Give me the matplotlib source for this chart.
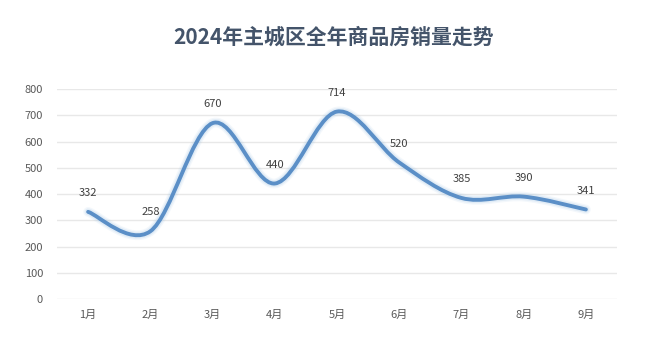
import matplotlib
matplotlib.use("Agg")
import matplotlib.pyplot as plt
import numpy as np
from matplotlib.path import Path
from matplotlib.patches import PathPatch

plt.rcParams['font.family'] = ['Noto Sans CJK SC', 'DejaVu Sans']

months = ['1月', '2月', '3月', '4月', '5月', '6月', '7月', '8月', '9月']
sales = [332, 258, 670, 440, 714, 520, 385, 390, 341]
yticks = [0, 100, 200, 300, 400, 500, 600, 700, 800]
title = '2024年主城区全年商品房销量走势'

fig = plt.figure(figsize=(6.55, 3.47), dpi=100)
ax = fig.add_axes([0.087, 0.1383, 0.855, 0.6052])

x = np.arange(len(months), dtype=float)
y = np.array(sales, dtype=float)

# Catmull-Rom style smoothing as Bezier segments (like Excel smoothed line)
verts = [(x[0], y[0])]
codes = [Path.MOVETO]
n = len(x)
for i in range(n - 1):
    p0 = (x[i - 1], y[i - 1]) if i > 0 else (x[i], y[i])
    p1 = (x[i], y[i])
    p2 = (x[i + 1], y[i + 1])
    p3 = (x[i + 2], y[i + 2]) if i + 2 < n else (x[i + 1], y[i + 1])
    c1 = (p1[0] + (p2[0] - p0[0]) / 6, p1[1] + (p2[1] - p0[1]) / 6)
    c2 = (p2[0] - (p3[0] - p1[0]) / 6, p2[1] - (p3[1] - p1[1]) / 6)
    verts += [c1, c2, p2]
    codes += [Path.CURVE4] * 3
path = Path(verts, codes)

for lw, a in [(7, 0.12), (5, 0.2)]:
    ax.add_patch(PathPatch(path, facecolor='none', edgecolor='#9dc3e6', lw=lw, alpha=a,
                           capstyle='round', joinstyle='round', zorder=3))
ax.add_patch(PathPatch(path, facecolor='none', edgecolor='#5b8fc7', lw=2.8,
                       capstyle='round', joinstyle='round', zorder=4))

for xi, yi in zip(x, y):
    ax.annotate(f'{int(yi)}', (xi, yi), xytext=(0, 10), textcoords='offset points',
                ha='center', va='bottom', fontsize=8, color='#404040')

ax.set_xlim(-0.5, n - 0.5)
ax.set_ylim(0, 800)
ax.set_yticks(yticks)
ax.set_yticklabels([str(t) for t in yticks])
ax.set_xticks(x)
ax.set_xticklabels(months)
ax.tick_params(axis='both', length=0, labelsize=8, colors='#595959')
ax.tick_params(axis='y', pad=10)
ax.tick_params(axis='x', pad=8)
ax.grid(axis='y', color='#e8e8e8', lw=1)
ax.set_axisbelow(True)
for s in ax.spines.values():
    s.set_visible(False)

fig.text(0.51, 0.892, title, ha='center', va='center', fontsize=15, fontweight='bold', color='#44546a')

fig.savefig('out.png', dpi=100)
